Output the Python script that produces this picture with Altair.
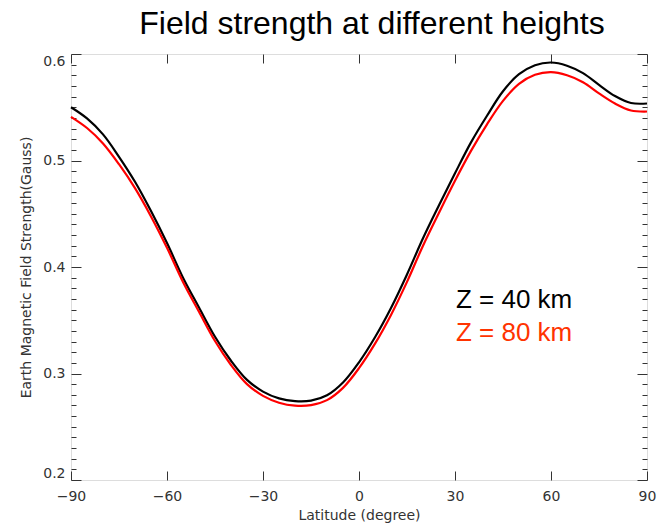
import altair as alt
import pandas as pd

# ---- data ----
latitude = list(range(-90, 91, 5))
z40 = [0.550, 0.5395, 0.5245, 0.5035, 0.480, 0.4525, 0.4225, 0.390, 0.362, 0.3345,
       0.312, 0.294, 0.283, 0.2766, 0.2740, 0.2745, 0.2795, 0.2915, 0.3105, 0.334,
       0.3615, 0.393, 0.427, 0.458, 0.488, 0.517, 0.542, 0.565, 0.581, 0.5895,
       0.592, 0.589, 0.582, 0.571, 0.5605, 0.554, 0.5535]
z80 = [0.541, 0.5305, 0.516, 0.4965, 0.474, 0.4475, 0.418, 0.386, 0.358, 0.3305,
       0.308, 0.290, 0.279, 0.2726, 0.2698, 0.2703, 0.2750, 0.2865, 0.305, 0.328,
       0.355, 0.386, 0.420, 0.451, 0.481, 0.509, 0.534, 0.556, 0.572, 0.5805,
       0.583, 0.580, 0.5735, 0.563, 0.5535, 0.547, 0.546]
series_names = ["Z = 40 km", "Z = 80 km"]
line_colors = ["#000000", "#ff0000"]
label_colors = ["#000000", "#ff3300"]
label_lat = [30.3, 30.3]
label_val = [0.3615, 0.3305]

x_ticks = [-90, -60, -30, 0, 30, 60, 90]
y_major = [0.2, 0.3, 0.4, 0.5, 0.6]
y_minor = [round(0.2 + 0.01 * i, 2) for i in range(41)]

rows = []
for name, vals in zip(series_names, [z40, z80]):
    for la, v in zip(latitude, vals):
        rows.append({"lat": la, "val": v, "series": name})
df = pd.DataFrame(rows)
labels_df = pd.DataFrame({"name": series_names, "lat": label_lat,
                          "val": label_val, "color": label_colors})

W, H = 576, 426
FONT = "DejaVu Sans"
xscale = alt.Scale(domain=[-90, 90], nice=False)
yscale = alt.Scale(domain=[0.2, 0.6], nice=False, zero=False)
minor_size = {"condition": {"test": "abs(datum.value*10 - round(datum.value*10)) < 0.001",
                            "value": 10}, "value": 5}

lines = alt.Chart(df).mark_line(strokeWidth=2.2, interpolate="catmull-rom").encode(
    x=alt.X("lat:Q", scale=xscale,
            axis=alt.Axis(orient="bottom", values=x_ticks, tickSize=0, domain=False,
                          grid=False, labelFlush=False, labelPadding=9,
                          labelFont=FONT, labelFontSize=14, labelColor="#333333",
                          title="Latitude (degree)", titleFont=FONT, titleFontSize=14,
                          titleFontWeight="normal", titleColor="#333333", titlePadding=5)),
    y=alt.Y("val:Q", scale=yscale,
            axis=alt.Axis(orient="left", values=y_major, format=".1f", tickSize=0,
                          domain=False, grid=False, labelFlush=True, labelPadding=6,
                          labelFont=FONT, labelFontSize=14, labelColor="#333333",
                          title="Earth Magnetic Field Strength(Gauss)", titleFont=FONT,
                          titleFontSize=14, titleFontWeight="normal", titleColor="#333333",
                          titlePadding=9)),
    color=alt.Color("series:N", scale=alt.Scale(domain=series_names, range=line_colors),
                    legend=None),
)

texts = alt.Chart(labels_df).mark_text(align="left", baseline="alphabetic", fontSize=26,
                                       font="Liberation Sans").encode(
    x=alt.X("lat:Q", scale=xscale,
            axis=alt.Axis(orient="top", offset=-H, values=x_ticks, tickSize=9,
                          tickColor="#333333", labels=False, domain=False, grid=False,
                          title=None)),
    y=alt.Y("val:Q", scale=yscale,
            axis=alt.Axis(orient="right", offset=-W, values=y_minor, tickSize=minor_size,
                          tickColor="#333333", labels=False, domain=False, grid=False,
                          title=None)),
    text="name:N",
    color=alt.Color("color:N", scale=None),
)

ghost = alt.Chart(labels_df).mark_point(opacity=0).encode(
    x=alt.X("lat:Q", scale=xscale,
            axis=alt.Axis(orient="bottom", offset=-H, values=x_ticks, tickSize=9,
                          tickColor="#333333", labels=False, domain=False, grid=False,
                          title=None)),
    y=alt.Y("val:Q", scale=yscale,
            axis=alt.Axis(orient="left", offset=-W, values=y_minor, tickSize=minor_size,
                          tickColor="#333333", labels=False, domain=False, grid=False,
                          title=None)),
)

chart = alt.layer(lines, texts, ghost).resolve_axis(
    x="independent", y="independent"
).properties(
    width=W, height=H,
    autosize=alt.AutoSizeParams(type="none"),
    padding={"left": 71, "top": 54, "right": 13, "bottom": 45},
    title=alt.Title("Field strength at different heights", font="Liberation Sans",
                    fontSize=32, fontWeight="normal", color="#000000", anchor="middle",
                    baseline="alphabetic", offset=-12, dx=13),
).configure_view(stroke="#000000", strokeWidth=1.2).configure(background="white")

chart.save("out.html", embed_options={"renderer": "svg", "actions": False})
